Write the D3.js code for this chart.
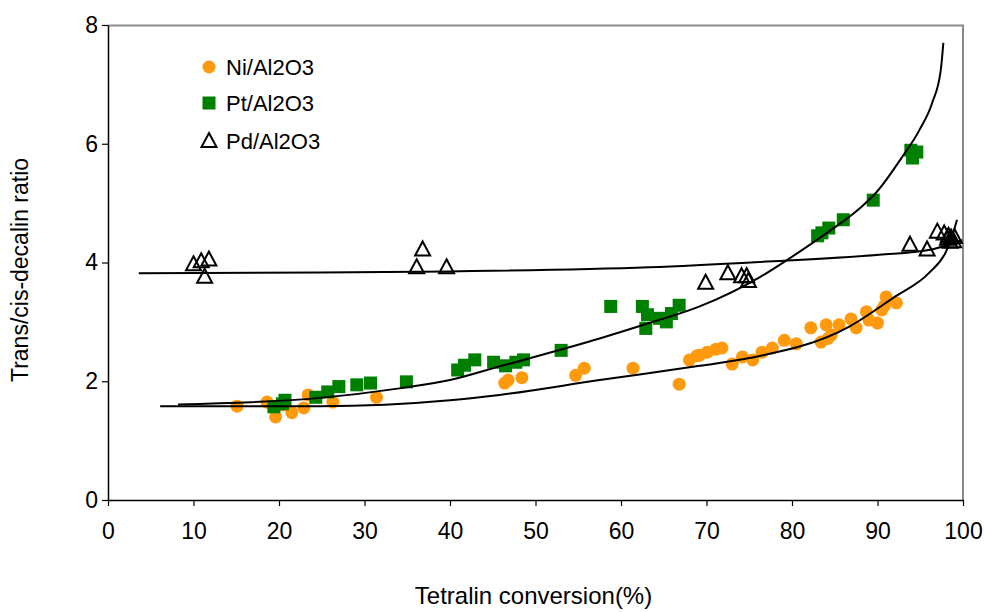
<!DOCTYPE html>
<html>
<head>
<meta charset="utf-8">
<script src="https://cdn.jsdelivr.net/npm/d3@7"></script>
<style>
body{margin:0;background:#fff;}
text{font-family:"Liberation Sans",Arial,sans-serif;fill:#000;}
</style>
</head>
<body>
<script>
//series values [conversion %, ratio]
var niData=[[15.1,1.58],[18.6,1.65],[19.6,1.40],[20.4,1.60],[21.5,1.47],[22.9,1.55],[23.4,1.77],[26.3,1.65],[31.4,1.73],
[46.4,1.97],[46.8,2.02],[48.4,2.06],[54.7,2.10],[55.7,2.22],[61.4,2.22],[66.8,1.95],[68.0,2.36],[68.9,2.43],
[69.2,2.44],[70.1,2.49],[71.1,2.54],[71.8,2.56],[73.0,2.29],[74.2,2.41],[75.4,2.36],[76.5,2.49],[77.7,2.56],
[79.1,2.69],[80.5,2.63],[82.2,2.90],[83.4,2.66],[84.0,2.95],[84.6,2.78],[84.2,2.72],[85.5,2.95],[86.9,3.05],
[87.5,2.90],[88.7,3.17],[89.0,3.03],[90.0,2.98],[90.5,3.20],[91.0,3.42],[92.2,3.32],[90.8,3.27]];
var ptData=[[19.4,1.57],[20.7,1.68],[20.4,1.62],[24.3,1.73],[25.7,1.82],[27.0,1.91],[29.1,1.94],[30.7,1.97],[34.9,1.99],
[40.9,2.19],[41.7,2.27],[42.9,2.36],[45.1,2.32],[46.5,2.26],[47.7,2.32],[48.6,2.36],[53.0,2.52],
[58.8,3.26],[62.5,3.26],[63.1,3.12],[62.9,2.89],[64.5,3.06],[65.3,3.00],[65.9,3.14],[66.8,3.28],
[83.0,4.45],[83.5,4.50],[84.3,4.58],[86.0,4.72],[89.5,5.05],[93.9,5.89],[94.1,5.76],[94.6,5.86]];
var pdData=[[10.0,3.97],[10.9,4.02],[11.8,4.05],[11.3,3.76],[36.1,3.92],[36.8,4.22],[39.6,3.92],
[69.9,3.66],[72.5,3.82],[74.1,3.77],[74.7,3.77],[74.9,3.69],[93.8,4.30],[95.8,4.22],[97.0,4.52],
[97.8,4.49],[98.3,4.45],[98.6,4.42],[98.9,4.36],[98.5,4.35],[99.0,4.43],[98.2,4.40]];
//trend lines
var niTrend=[[6.1,1.58],[24.8,1.58],[40.0,1.68],[45.8,1.77],[57.5,2.02],[69.2,2.26],[75.0,2.39],[86.7,2.92],
[92.0,3.42],[96.0,3.82],[98.0,4.18],[98.7,4.43],[99.3,4.72]];
var ptTrend=[[8.2,1.61],[24.8,1.72],[34.1,1.88],[40.0,2.02],[45.8,2.25],[57.5,2.72],[63.3,2.98],[69.2,3.26],
[76.2,3.75],[79.4,4.04],[84.0,4.49],[87.9,4.91],[89.8,5.17],[92.9,5.78],[94.9,6.23],[96.4,6.69],[97.4,7.24],[97.7,7.70]];
var pdTrend=[[3.6,3.82],[24.8,3.83],[40.0,3.85],[63.3,3.92],[76.2,4.01],[90.2,4.13],[96.0,4.21],[99.9,4.38]];
var xTicks=[0,10,20,30,40,50,60,70,80,90,100];
var yTicks=[0,2,4,6,8];
var legendLabels=["Ni/Al2O3","Pt/Al2O3","Pd/Al2O3"];

var svgWidth=984;
var svgHeight=612;
var margin={top:25,right:21,bottom:112,left:108};
var chartWidth=svgWidth-margin.left-margin.right;
var chartHeight=svgHeight-margin.top-margin.bottom;

var svg=d3.select("body").append("svg")
.attr("width",svgWidth)
.attr("height",svgHeight);
var chartGroup=svg.append("g")
.attr("transform",`translate(${margin.left},${margin.top})`);

var xScale=d3.scaleLinear().domain([0,100]).range([0,chartWidth]);
var yScale=d3.scaleLinear().domain([0,8]).range([chartHeight,0]);

//grey frame on top and right
chartGroup.append("path")
.attr("d",`M0,0.5H${chartWidth}V${chartHeight}`)
.attr("fill","none")
.attr("stroke","#8c8c8c")
.attr("stroke-width",2);

//axes
var xAxis=chartGroup.append("g")
.attr("transform",`translate(0,${chartHeight})`)
.call(d3.axisBottom(xScale).tickValues(xTicks).tickSize(6).tickPadding(17).tickSizeOuter(0));
var yAxis=chartGroup.append("g")
.call(d3.axisLeft(yScale).tickValues(yTicks).tickSize(6).tickPadding(4).tickSizeOuter(0));
[xAxis,yAxis].forEach(function(ax){
  ax.select(".domain").attr("stroke","#000").attr("stroke-width",1.5);
  ax.selectAll(".tick line").attr("stroke","#000").attr("stroke-width",1.2);
  ax.selectAll("text").style("font-size","23px").attr("fill","#000");
});

//markers
var triPath="M0,-8L7.5,6L-7.5,6Z";
chartGroup.append("g").selectAll("circle")
.data(niData).enter().append("circle")
.attr("cx",d=>xScale(d[0]))
.attr("cy",d=>yScale(d[1]))
.attr("r",6.5)
.attr("fill","#ff9a0e");
chartGroup.append("g").selectAll("rect")
.data(ptData).enter().append("rect")
.attr("x",d=>xScale(d[0])-6.5)
.attr("y",d=>yScale(d[1])-6.5)
.attr("width",13)
.attr("height",13)
.attr("fill","#008000");
chartGroup.append("g").selectAll("path")
.data(pdData).enter().append("path")
.attr("transform",d=>`translate(${xScale(d[0])},${yScale(d[1])})`)
.attr("d",triPath)
.attr("fill","none")
.attr("stroke","#000")
.attr("stroke-width",2);

//trend lines
var drawLine=d3.line()
.x(d=>xScale(d[0]))
.y(d=>yScale(d[1]))
.curve(d3.curveMonotoneX);
[niTrend,ptTrend,pdTrend].forEach(function(t){
  chartGroup.append("path")
  .attr("d",drawLine(t))
  .attr("fill","none")
  .attr("stroke","#000")
  .attr("stroke-width",2);
});

//legend
var legend=svg.append("g").attr("transform","translate(209,0)");
var legendY=[67,103,141];
legend.append("circle").attr("cx",0).attr("cy",legendY[0]).attr("r",6.5).attr("fill","#ff9a0e");
legend.append("rect").attr("x",-6.5).attr("y",legendY[1]-6.5).attr("width",13).attr("height",13).attr("fill","#008000");
legend.append("path").attr("transform",`translate(0,${legendY[2]})`).attr("d",triPath)
.attr("fill","none").attr("stroke","#000").attr("stroke-width",2);
legend.selectAll("text.lab")
.data(legendLabels).enter().append("text")
.attr("class","lab")
.attr("x",17)
.attr("y",(d,i)=>legendY[i]+8)
.style("font-size","22px")
.text(d=>d);

//axis titles
svg.append("text")
.attr("x",margin.left+chartWidth/2-2)
.attr("y",604)
.attr("text-anchor","middle")
.style("font-size","24px")
.text("Tetralin conversion(%)");
svg.append("text")
.attr("transform","translate(28,270) rotate(-90)")
.attr("text-anchor","middle")
.style("font-size","23px")
.text("Trans/cis-decalin ratio");
</script>
</body>
</html>
